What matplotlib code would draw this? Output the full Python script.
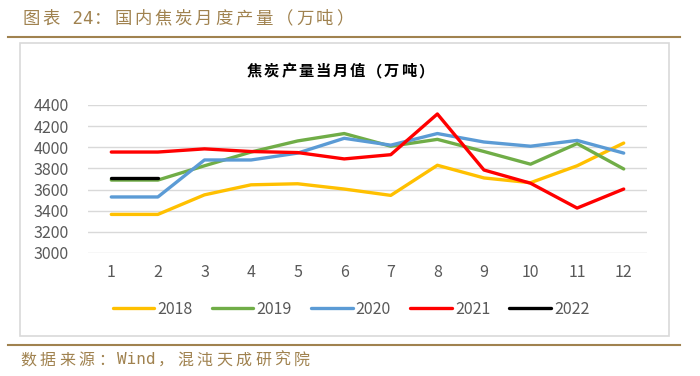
import numpy as np
import matplotlib
matplotlib.use("Agg")
import matplotlib.pyplot as plt
from matplotlib.patches import Rectangle
from matplotlib.lines import Line2D

plt.rcParams['font.family'] = ['Liberation Sans Narrow', 'Noto Sans CJK SC', 'DejaVu Sans']

# data
months = [1, 2, 3, 4, 5, 6, 7, 8, 9, 10, 11, 12]
y2018 = [3365, 3365, 3550, 3645, 3655, 3605, 3545, 3830, 3710, 3665, 3825, 4040]
y2019 = [3690, 3690, 3825, 3955, 4060, 4130, 4010, 4075, 3960, 3840, 4035, 3795]
y2020 = [3530, 3530, 3880, 3880, 3945, 4085, 4020, 4130, 4050, 4010, 4065, 3945]
y2021 = [3955, 3955, 3985, 3960, 3950, 3890, 3930, 4315, 3785, 3660, 3425, 3605]
y2022 = [3710, 3710]
years = ['2018', '2019', '2020', '2021', '2022']
colors = ['#FFC000', '#70AD47', '#5B9BD5', '#FF0000', '#000000']

fig = plt.figure(figsize=(7, 3.76), dpi=100)
W, H = 700, 376

def fx(px):
    return px / W

def fy(py):
    return 1 - py / H

cjk = ['Noto Sans CJK SC', 'DejaVu Sans']
mono = ['DejaVu Sans Mono', 'Noto Sans CJK SC']

def spaced(x0, y, s, full, half, **kw):
    # CJK chars one by one with wide spacing, ascii runs kept together
    x = x0
    i = 0
    while i < len(s):
        ch = s[i]
        if ord(ch) > 127:
            fig.text(fx(x), fy(y), ch, family=cjk, va='center', ha='left', **kw)
            x += full
            i += 1
        else:
            j = i
            while j < len(s) and ord(s[j]) <= 127:
                j += 1
            run = s[i:j]
            if run.strip():
                fig.text(fx(x), fy(y), run, family=mono, va='center', ha='left', **kw)
            x += half * len(run)
            i = j

brown = '#A0824F'
# header / footer
spaced(22, 19, '图表 24：国内焦炭月度产量（万吨）', 20.2, 10.5, fontsize=12.5, color=brown)
fig.add_artist(Line2D([fx(8), fx(680)], [fy(37), fy(37)], color=brown, lw=1.5))
fig.add_artist(Line2D([fx(8), fx(680)], [fy(345), fy(345)], color=brown, lw=1.5))
spaced(20, 360, '数据来源：Wind，混沌天成研究院', 19.5, 10, fontsize=11.5, color=brown)

# chart box
fig.add_artist(Rectangle((fx(20), fy(336)), fx(669) - fx(20), fy(43) - fy(336),
                         fill=False, edgecolor='#D9D9D9', lw=1.2, transform=fig.transFigure))
spaced(247, 71, '焦炭产量当月值（万吨）', 17.1, 9, fontsize=11, fontweight='bold', color='#000000')

ax = fig.add_axes([fx(88), fy(253), fx(647) - fx(88), fy(105) - fy(253)])
series = [y2018, y2019, y2020, y2021, y2022]
for lab, vals, c in zip(years, series, colors):
    ax.plot(months[:len(vals)], vals, color=c, lw=2.4, label=lab, solid_capstyle='round')

ax.set_xlim(0.5, 12.5)
ax.set_ylim(3000, 4400)
ax.set_yticks(np.arange(3000, 4401, 200))
ax.set_xticks(months)
ax.grid(axis='y', color='#D9D9D9', lw=1)
ax.set_axisbelow(True)
for s in ax.spines.values():
    s.set_visible(False)
ax.tick_params(length=0, labelsize=11.5, colors='#595959', pad=8)
ax.tick_params(axis='y', pad=14)

fig.legend(loc='center', bbox_to_anchor=(fx(351), fy(309)), ncol=5, frameon=False,
           handlelength=2.6, handletextpad=0.2, columnspacing=1.2, fontsize=11.5,
           labelcolor='#595959')

fig.savefig('out.png', dpi=100)
